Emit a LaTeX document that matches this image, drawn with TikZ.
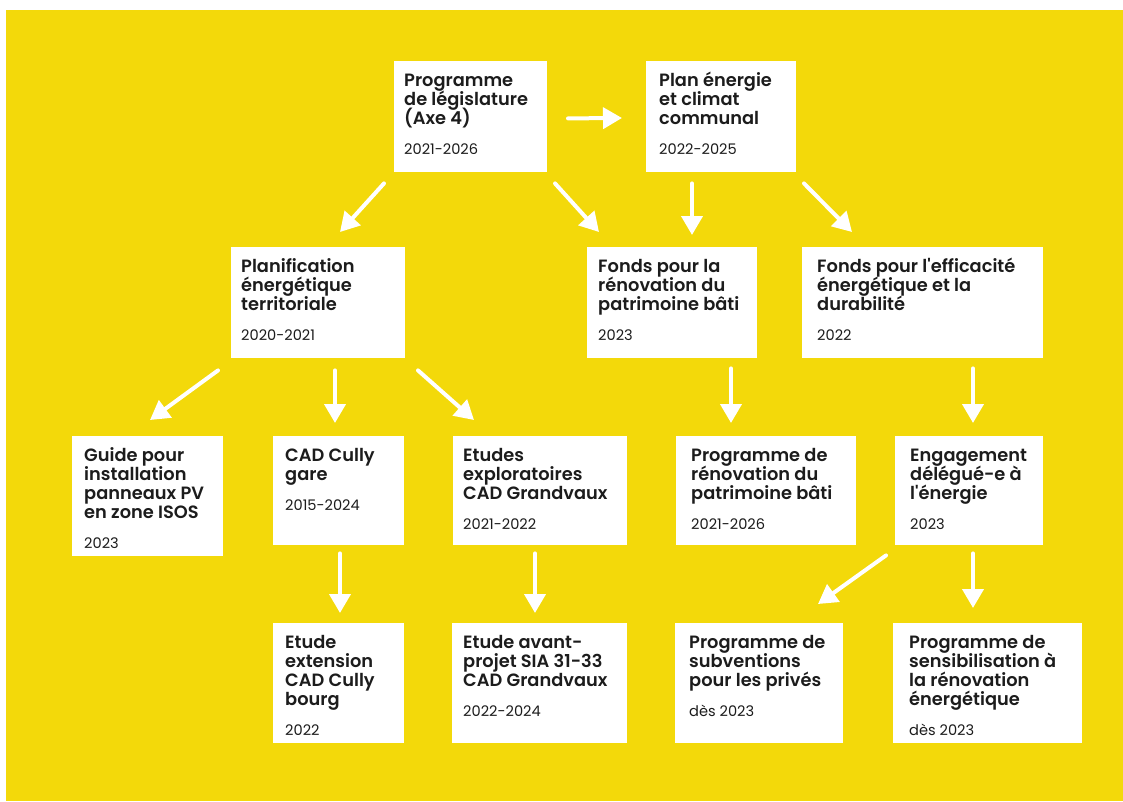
\documentclass[tikz,border=0pt]{standalone}
\usepackage{fontspec}
\setmainfont{Poppins}[Ligatures={TeXOff,NoCommon},BoldFont={Poppins SemiBold}]
\usetikzlibrary{arrows.meta}

\definecolor{jaune}{RGB}{243,217,10}
\definecolor{encre}{RGB}{28,28,28}

% [#1 marge] #2 largeur, #3 hauteur, #4 titre, #5 periode
\newcommand{\carte}[5][10]{\parbox[t][#3pt][t]{#2pt}{\raggedright\leftskip=#1pt\lineskiplimit=-50pt
  {\fontsize{17.8}{19}\selectfont\bfseries\rule{0pt}{25pt}#4\par}
  {\fontsize{14.6}{30.5}\selectfont #5\par}}}

\begin{document}
\begin{tikzpicture}
  [x=1pt,y=-1pt,
   carte/.style={fill=white,text=encre,anchor=north west,inner sep=0pt},
   fleche/.style={draw=white,line width=4pt,line cap=round,-{Triangle[length=19pt,width=21pt]}}]
  \useasboundingbox (0,0) rectangle (1123,801);
  \fill[jaune] (6,10) rectangle (1123,801);

  \node[carte] (leg) at (394,61) {\carte{153}{111}{Programme\\de législature\\(Axe 4)}{2021-2026}};
  \node[carte] (plan) at (646,61) {\carte[13]{150}{111}{Plan énergie\\et climat\\communal}{2022-2025}};

  \node[carte] (planif) at (231,247) {\carte{174}{111}{Planification\\énergétique\\territoriale}{2020-2021}};
  \node[carte] (fondsr) at (587,247) {\carte[11]{170}{111}{Fonds pour la\\rénovation du\\patrimoine bâti}{2023}};
  \node[carte] (fondse) at (802,247) {\carte[15]{241}{111}{Fonds pour l'efficacité\\énergétique et la\\durabilité}{2022}};

  \node[carte] (guide) at (72,436) {\carte[12]{151}{120}{Guide pour\\installation\\panneaux PV\\en zone ISOS}{2023}};
  \node[carte] (gare) at (273,436) {\carte[12]{131}{109}{CAD Cully\\gare}{2015-2024}};
  \node[carte] (etudes) at (453,436) {\carte{174}{109}{Etudes\\exploratoires\\CAD Grandvaux}{2021-2022}};
  \node[carte] (progr) at (676,436) {\carte[15]{180}{109}{Programme de\\rénovation du\\patrimoine bâti}{2021-2026}};
  \node[carte] (engag) at (895,436) {\carte[15]{148}{109}{Engagement\\délégué-e à\\l'énergie}{2023}};

  \node[carte] (bourg) at (273,623) {\carte[12]{131}{120}{Etude\\extension\\CAD Cully\\bourg}{2022}};
  \node[carte] (avant) at (452,623) {\carte[11]{175}{120}{Etude avant-\\projet SIA 31-33\\CAD Grandvaux}{2022-2024}};
  \node[carte] (subv) at (675,623) {\carte[14]{168}{120}{Programme de\\subventions\\pour les privés}{dès 2023}};
  \node[carte] (sensib) at (893,623) {\carte[16]{189}{120}{Programme de\\sensibilisation à\\la rénovation\\énergétique}{dès 2023}};

  \foreach \from/\fx/\fy/\to/\tx/\ty in {leg/174/-54/plan/-24/57, leg/-10/11/planif/109/-15,
      leg/161/11/fondsr/12/-15, plan/46/11/fondsr/105/-12, plan/158/11/fondse/50/-15,
      planif/-13/12/guide/78/-16, planif/104/12/gare/62/-13, planif/187/12/etudes/21/-16,
      fondsr/144/10/progr/55/-13, fondse/171/10/engag/78/-13, gare/67/8/bourg/67/-10,
      etudes/82/8/avant/83/-10, engag/-9/10/subv/143/-19, engag/78/8/sensib/80/-15}
    \draw[fleche] ([shift={(\fx,\fy)}]\from.south west) -- ([shift={(\tx,\ty)}]\to.north west);

\end{tikzpicture}
\end{document}
